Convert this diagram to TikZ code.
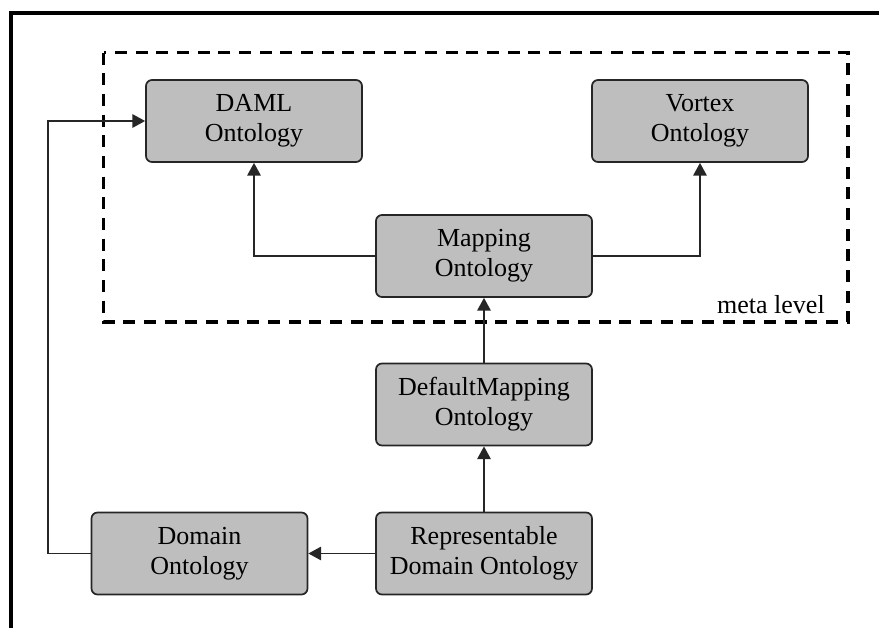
\documentclass[tikz,border=0pt]{standalone}
\usepackage{fontspec}
\setmainfont{Liberation Serif}
\usetikzlibrary{arrows.meta}
\definecolor{boxgray}{RGB}{190,190,190}
\tikzset{every scope/.style={>={Triangle[length=9.5pt,width=10pt]},line width=1.3pt},
  onto/.style={draw=black!85,fill=boxgray,rounded corners=4.5pt,minimum width=162pt,minimum height=61.5pt,
    align=center,inner sep=0pt,font=\fontsize{19.5}{22.5}\selectfont},
  conn/.style={->,draw=black!85}}

\begin{document}
\begin{tikzpicture}[x=0.75pt,y=-0.75pt]
  \useasboundingbox (0,0) rectangle (879,628);
  \draw[line width=3pt] (11,640) -- (11,13) -- (890,13);
  \draw[line width=2.3pt,dash pattern=on 9pt off 6.5pt] (103.5,52.5) rectangle (848,322);
  \node[anchor=base east,font=\fontsize{19.5}{22.5}\selectfont] (meta) at (830,313) {meta level};

  \node[onto] (daml)   at (254,121)   {DAML\\Ontology};
  \node[onto] (vortex) at (700,121)   {Vortex\\Ontology};
  \node[onto] (map)    at (484,256)   {Mapping\\Ontology};
  \node[onto] (defmap) at (484,404.5) {DefaultMapping\\Ontology};
  \node[onto] (repr)   at (484,553.5) {Representable\\Domain Ontology};
  \node[onto] (dom)    at (199.5,553.5) {Domain\\Ontology};

  \draw[conn] (map.west) -| (daml.south);
  \draw[conn] (map.east) -| (vortex.south);
  \draw[conn] (defmap.north) -- (map.south);
  \draw[conn] (repr.north) -- (defmap.south);
  \draw[conn] (repr.west) -- (dom.east);
  \draw[conn] (dom.west) -- ++(-43,0) |- (daml.west);
\end{tikzpicture}
\end{document}
